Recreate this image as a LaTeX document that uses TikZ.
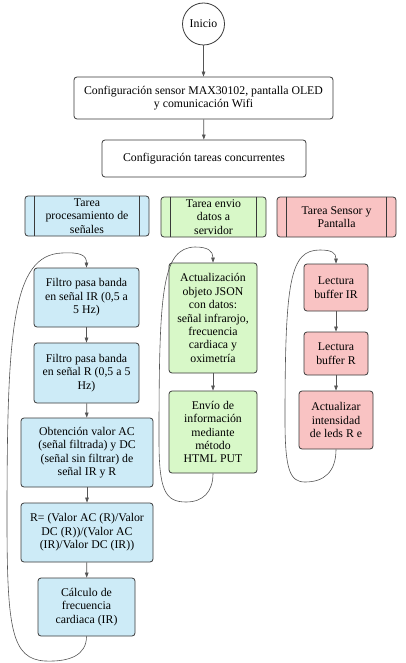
\documentclass[tikz,border=0pt]{standalone}
\usepackage{fontspec}
\setmainfont{Liberation Serif}
\usetikzlibrary{arrows.meta}
\definecolor{bluef}{HTML}{CDEBF7}
\definecolor{greenf}{HTML}{D8F8C8}
\definecolor{redf}{HTML}{F9C3C3}
\definecolor{edgec}{HTML}{3A3A3A}
\definecolor{linec}{HTML}{555555}
\begin{document}
\begin{tikzpicture}[x=1pt,y=-1pt,
  every node/.style={font=\fontsize{11.8}{13.4}\selectfont, align=center, inner sep=0pt},
  boxb/.style={draw=edgec, line width=0.8pt, rounded corners=3pt, minimum width=#1},
  proc/.style={draw=edgec, line width=0.8pt, rounded corners=3pt},
  conn/.style={draw=linec, line width=0.7pt, -{Triangle[length=5pt,width=3.6pt]}},
  loopc/.style={draw=linec, line width=0.6pt, -{Triangle[length=5pt,width=3.6pt]}}
]
\useasboundingbox (0,0) rectangle (405,663);
\fill[white] (0,0) rectangle (405,663);

\node[circle, draw=edgec, line width=0.8pt, minimum size=42pt] (inicio) at (203.5,24) {Inicio};
\node[proc, minimum width=259pt, minimum height=42pt, fill=white] (cfg1) at (203.5,98) {Configuración sensor MAX30102, pantalla OLED\\y comunicación Wifi};
\node[proc, minimum width=204pt, minimum height=37pt, fill=white] (cfg2) at (204,158.5) {Configuración tareas concurrentes};

\draw[conn] (inicio) -- (cfg1);
\draw[conn] (cfg1) -- (cfg2);

% task headers
\node[proc, fill=bluef, minimum width=124pt, minimum height=40pt] (t1) at (87,216) {Tarea\\procesamiento de\\señales};
\draw[edgec, line width=0.8pt] ([xshift=10pt]t1.north west) -- ([xshift=10pt]t1.south west);
\draw[edgec, line width=0.8pt] ([xshift=-10pt]t1.north east) -- ([xshift=-10pt]t1.south east);

\node[proc, fill=greenf, minimum width=105pt, minimum height=40pt] (t2) at (213.5,217) {Tarea envio\\datos a\\servidor};
\draw[edgec, line width=0.8pt] ([xshift=10pt]t2.north west) -- ([xshift=10pt]t2.south west);
\draw[edgec, line width=0.8pt] ([xshift=-10pt]t2.north east) -- ([xshift=-10pt]t2.south east);

\node[proc, fill=redf, minimum width=119pt, minimum height=40pt] (t3) at (336.5,217) {Tarea Sensor y\\Pantalla};
\draw[edgec, line width=0.8pt] ([xshift=10pt]t3.north west) -- ([xshift=10pt]t3.south west);
\draw[edgec, line width=0.8pt] ([xshift=-10pt]t3.north east) -- ([xshift=-10pt]t3.south east);

% blue column
\node[proc, fill=bluef, minimum width=105pt, minimum height=59pt] (b1) at (86.5,297.5) {Filtro pasa banda\\en señal IR (0,5 a\\5 Hz)};
\node[proc, fill=bluef, minimum width=105pt, minimum height=60pt] (b2) at (86.5,373) {Filtro pasa banda\\en señal R (0,5 a 5\\Hz)};
\node[proc, fill=bluef, minimum width=132pt, minimum height=69pt] (b3) at (87,452.5) {Obtención valor AC\\(señal filtrada) y DC\\(señal sin filtrar) de\\señal IR y R};
\node[proc, fill=bluef, minimum width=132pt, minimum height=59pt] (b4) at (87,532.5) {R= (Valor AC (R)/Valor\\DC (R))/(Valor AC\\(IR)/Valor DC (IR))};
\node[proc, fill=bluef, minimum width=97pt, minimum height=58pt] (b5) at (86.5,607) {Cálculo de\\frecuencia\\cardiaca (IR)};
\draw[conn] (b1) -- (b2);
\draw[conn] (b2) -- (b3);
\draw[conn] (b3) -- (b4);
\draw[conn] (b4) -- (b5);
\draw[loopc] (b5.south) .. controls (86.5,655) and (70,662) .. (45,661)
  .. controls (12,659) and (7,630) .. (7,520)
  .. controls (7,330) and (12,255) .. (62,253)
  .. controls (80,252) and (86.5,255) .. (b1.north);

% green column
\node[proc, fill=greenf, minimum width=88pt, minimum height=110pt] (g1) at (213,318) {Actualización\\objeto JSON\\con datos:\\señal infrarojo,\\frecuencia\\cardiaca y\\oximetría};
\node[proc, fill=greenf, minimum width=88pt, minimum height=82pt] (g2) at (213,432) {Envío de\\información\\mediante\\método\\HTML PUT};
\draw[conn] (g1) -- (g2);
\draw[loopc] (g2.south) .. controls (213,492) and (203,502) .. (186,502)
  .. controls (165,502) and (159,490) .. (159,440)
  .. controls (159,290) and (162,248) .. (195,247)
  .. controls (208,247) and (213,251) .. (g1.north);

% red column
\node[proc, fill=redf, minimum width=64pt, minimum height=47pt] (r1) at (336,287.5) {Lectura\\buffer IR};
\node[proc, fill=redf, minimum width=64pt, minimum height=43pt] (r2) at (336,353.5) {Lectura\\buffer R};
\node[proc, fill=redf, minimum width=74pt, minimum height=58pt] (r3) at (336,420) {Actualizar\\intensidad\\de leds R e};
\draw[conn] (r1) -- (r2);
\draw[conn] (r2) -- (r3);
\draw[loopc] (r3.south) .. controls (336,472) and (324,482) .. (305,482)
  .. controls (290,482) and (285,470) .. (285,420)
  .. controls (285,280) and (290,250) .. (320,250)
  .. controls (332,250) and (336,253) .. (r1.north);
\end{tikzpicture}
\end{document}
